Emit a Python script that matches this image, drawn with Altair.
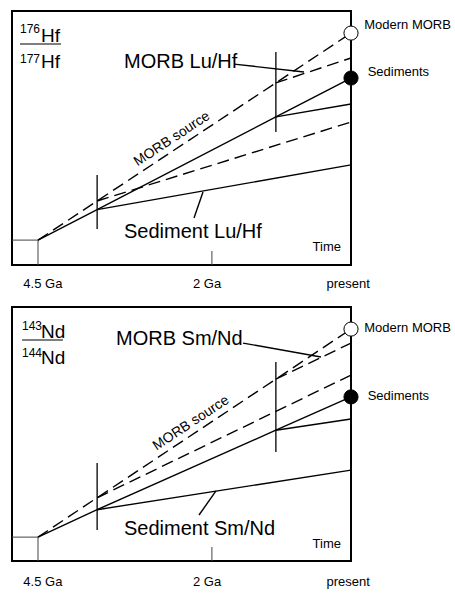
import altair as alt
import pandas as pd

# ---------------- data (ages in Ga, isotope ratio in arbitrary units 0-100) ----------------
X_LEFT = 4.874          # age at the left frame edge
START_AGE = 4.5

seg_names = ["crust", "sediment_t1", "sediment_t2", "morb_source", "morb_t1", "morb_t2"]
seg_dashed = [False, False, False, True, True, True]
seg_ages = [[4.5, 3.65, 1.08, 0.0], [3.65, 0.0], [1.08, 0.0],
            [4.5, 3.65, 1.08, 0.0], [3.65, 0.0], [1.08, 0.0]]
hf_seg_vals = [[9.8, 21.8, 58.3, 73.6], [21.8, 39.4], [58.3, 63.4],
               [9.8, 25.2, 71.7, 91.3], [25.2, 56.3], [71.7, 81.5]]
nd_seg_vals = [[9.4, 20.2, 51.5, 64.6], [20.2, 35.8], [51.5, 55.9],
               [9.4, 24.9, 71.6, 91.3], [24.9, 73.2], [71.6, 85.8]]

tick_ages = [3.65, 1.08]
hf_tick_lo = [14.2, 52.4]
hf_tick_hi = [35.4, 83.9]
nd_tick_lo = [12.2, 42.9]
nd_tick_hi = [38.6, 78.3]

hf_start_val = 9.8
nd_start_val = 9.4
two_ga_tick = [2.0, 5.5]

marker_names = ["Modern MORB", "Sediments"]
marker_fill = ["white", "black"]
marker_label_ages = [-0.19, -0.24]
hf_marker_vals = [91.3, 73.6]
nd_marker_vals = [91.3, 64.6]
hf_marker_label_vals = [94.5, 76.0]
nd_marker_label_vals = [91.7, 65.0]

x_label_text = ["4.5 Ga", "2 Ga", "present"]
x_label_ages = [4.43, 2.07, 0.04]
hf_x_label_val = -7.4
nd_x_label_val = -8.2

hf_big_text = ["MORB Lu/Hf", "Sediment Lu/Hf"]
nd_big_text = ["MORB Sm/Nd", "Sediment Sm/Nd"]
hf_big_ages = [3.264, 3.264]
nd_big_ages = [3.379, 3.264]
hf_big_vals = [79.9, 13.0]
nd_big_vals = [87.4, 12.6]

hf_lead_a1 = [1.682, 2.257]
hf_lead_v1 = [79.1, 18.5]
hf_lead_a2 = [0.676, 2.128]
hf_lead_v2 = [76.0, 28.7]
nd_lead_a1 = [1.553, 2.185]
nd_lead_v1 = [85.8, 18.1]
nd_lead_a2 = [0.431, 1.941]
nd_lead_v2 = [80.3, 27.6]

hf_src_label = [2.574, 49.6]
nd_src_label = [2.300, 54.3]

time_age = 0.144
hf_time_val = 7.1
nd_time_val = 6.7

hf_sup = ["176", "177"]
nd_sup = ["143", "144"]
hf_elem = "Hf"
nd_elem = "Nd"
hf_sup_age, nd_sup_age = 4.759, 4.730
elem_age = 4.457
hf_sup_vals = [91.3, 79.5]
nd_sup_vals = [90.9, 80.3]
elem_vals = [87.8, 77.6]
hf_bar = [4.759, 4.169, 87.0]
nd_bar = [4.730, 4.141, 87.0]

FONT = "Liberation Sans"
W, H = 339, 254

xs = alt.Scale(domain=[X_LEFT, 0], nice=False, zero=False)
ys = alt.Scale(domain=[0, 100], nice=False, zero=False)


def X(f):
    return alt.X(f, type="quantitative", scale=xs, axis=None)


def Y(f):
    return alt.Y(f, type="quantitative", scale=ys, axis=None)


def panel(seg_vals, tick_lo, tick_hi, start_val, marker_vals, marker_label_vals,
          x_label_val, big_text, big_ages, big_vals, la1, lv1, la2, lv2,
          src_label, time_val, sup, elem, sup_age, sup_vals, bar):
    rows = []
    for name, dashed, ages, vals in zip(seg_names, seg_dashed, seg_ages, seg_vals):
        for i, (a, v) in enumerate(zip(ages, vals)):
            rows.append({"seg": name, "dashed": dashed, "age": a, "v": v, "o": i})
    lines = pd.DataFrame(rows)

    solid = alt.Chart(lines[~lines.dashed]).mark_line(color="black", strokeWidth=1.4).encode(
        x=X("age"), y=Y("v"), detail="seg:N", order="o:Q")
    dashed = alt.Chart(lines[lines.dashed]).mark_line(
        color="black", strokeWidth=1.4, strokeDash=[12, 6]).encode(
        x=X("age"), y=Y("v"), detail="seg:N", order="o:Q")

    ticks = alt.Chart(pd.DataFrame({"age": tick_ages, "lo": tick_lo, "hi": tick_hi})).mark_rule(
        color="black", strokeWidth=1.3).encode(x=X("age"), y=Y("lo"), y2="hi")

    box = pd.DataFrame({"a1": [X_LEFT, START_AGE, two_ga_tick[0]],
                        "a2": [START_AGE, START_AGE, two_ga_tick[0]],
                        "v1": [start_val, 0, 0],
                        "v2": [start_val, start_val, two_ga_tick[1]]})
    square = alt.Chart(box).mark_rule(color="#444444", strokeWidth=1).encode(
        x=X("a1"), x2="a2", y=Y("v1"), y2="v2")

    leaders = alt.Chart(pd.DataFrame({"a1": la1, "a2": la2, "v1": lv1, "v2": lv2})).mark_rule(
        color="black", strokeWidth=1.4).encode(x=X("a1"), x2="a2", y=Y("v1"), y2="v2")

    mk = pd.DataFrame({"name": marker_names, "fill": marker_fill, "age": [0.0, 0.0],
                       "v": marker_vals, "la": marker_label_ages, "lv": marker_label_vals})
    markers = alt.Chart(mk).mark_circle(size=200, stroke="black", strokeWidth=1, opacity=1).encode(
        x=X("age"), y=Y("v"), fill=alt.Fill("fill:N", scale=None))
    marker_text = alt.Chart(mk).mark_text(font=FONT, fontSize=13, align="left", baseline="middle").encode(
        x=X("la"), y=Y("lv"), text="name:N")

    xl = alt.Chart(pd.DataFrame({"t": x_label_text, "age": x_label_ages, "v": [x_label_val] * 3})).mark_text(
        font=FONT, fontSize=13, align="center", baseline="middle").encode(x=X("age"), y=Y("v"), text="t:N")

    big = alt.Chart(pd.DataFrame({"t": big_text, "age": big_ages, "v": big_vals})).mark_text(
        font=FONT, fontSize=20, align="left", baseline="middle").encode(x=X("age"), y=Y("v"), text="t:N")

    src = alt.Chart(pd.DataFrame({"t": ["MORB source"], "age": [src_label[0]], "v": [src_label[1]]})).mark_text(
        font=FONT, fontSize=14, angle=326.5, align="center", baseline="middle").encode(
        x=X("age"), y=Y("v"), text="t:N")

    tm = alt.Chart(pd.DataFrame({"t": ["Time"], "age": [time_age], "v": [time_val]})).mark_text(
        font=FONT, fontSize=13, align="right", baseline="middle").encode(x=X("age"), y=Y("v"), text="t:N")

    sup_t = alt.Chart(pd.DataFrame({"t": sup, "age": [sup_age] * 2, "v": sup_vals})).mark_text(
        font=FONT, fontSize=12, align="left", baseline="alphabetic").encode(x=X("age"), y=Y("v"), text="t:N")
    elem_t = alt.Chart(pd.DataFrame({"t": [elem] * 2, "age": [elem_age] * 2, "v": elem_vals})).mark_text(
        font=FONT, fontSize=19, align="left", baseline="alphabetic").encode(x=X("age"), y=Y("v"), text="t:N")
    bar_r = alt.Chart(pd.DataFrame({"a1": [bar[0]], "a2": [bar[1]], "v": [bar[2]]})).mark_rule(
        color="black", strokeWidth=1.2).encode(x=X("a1"), x2="a2", y=Y("v"))

    return alt.layer(square, solid, dashed, ticks, leaders, markers, marker_text, xl, big, src, tm,
                     sup_t, elem_t, bar_r).properties(width=W, height=H)


top = panel(hf_seg_vals, hf_tick_lo, hf_tick_hi, hf_start_val, hf_marker_vals, hf_marker_label_vals,
            hf_x_label_val, hf_big_text, hf_big_ages, hf_big_vals, hf_lead_a1, hf_lead_v1, hf_lead_a2,
            hf_lead_v2, hf_src_label, hf_time_val, hf_sup, hf_elem, hf_sup_age, hf_sup_vals, hf_bar)
bottom = panel(nd_seg_vals, nd_tick_lo, nd_tick_hi, nd_start_val, nd_marker_vals, nd_marker_label_vals,
               nd_x_label_val, nd_big_text, nd_big_ages, nd_big_vals, nd_lead_a1, nd_lead_v1, nd_lead_a2,
               nd_lead_v2, nd_src_label, nd_time_val, nd_sup, nd_elem, nd_sup_age, nd_sup_vals, nd_bar)

chart = alt.vconcat(top, bottom, spacing=42, bounds="flush").properties(
    padding={"left": 10, "top": 10, "right": 2, "bottom": 2},
    background="white",
).configure_view(stroke="black", strokeWidth=2)

chart.save("out.html", embed_options={"renderer": "svg", "actions": False})
